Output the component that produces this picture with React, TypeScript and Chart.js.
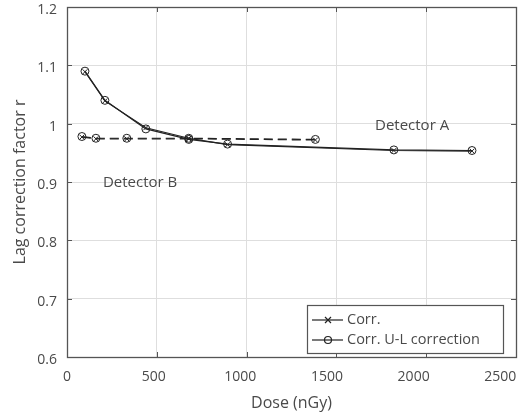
import React, { useEffect, useRef } from "react";
import { Chart, registerables } from "chart.js";
Chart.register(...registerables);

// Detector A (solid line)
const doseA = [100, 211, 439, 678, 894, 1820, 2255];
const corrA = [1.089, 1.039, 0.993, 0.975, 0.964, 0.954, 0.953];
const ulA = [1.09, 1.04, 0.991, 0.973, 0.965, 0.955, 0.954];
// Detector B (dashed line)
const doseB = [83, 161, 333, 678, 1383];
const corrB = [0.977, 0.974, 0.974, 0.974, 0.972];
const ulB = [0.978, 0.975, 0.975, 0.975, 0.973];

const legendLabels = ["Corr.", "Corr. U-L correction"];
const annotations = [
  { text: "Detector A", x: 1715, y: 0.996 },
  { text: "Detector B", x: 200, y: 0.898 },
];
const X_MIN = 0, X_MAX = 2500, X_STEP = 500;
const Y_MIN = 0.6, Y_MAX = 1.2, Y_STEP = 0.1;

const FONT = "'Open Sans', 'DejaVu Sans', sans-serif";
const INK = "#222";
const TXT = "#4a4a4a";
const X_LABEL_SQUEEZE = 0.965;

const toPts = (xs: number[], ys: number[]) => xs.map((x, i) => ({ x, y: ys[i] }));

const framePlugin = {
  id: "frame",
  afterDatasetsDraw(chart: any) {
    const { ctx, chartArea: ca, scales } = chart;
    ctx.save();
    ctx.strokeStyle = "#555";
    ctx.lineWidth = 1.3;
    ctx.strokeRect(Math.round(ca.left) + 0.5, Math.round(ca.top) + 0.5, Math.round(ca.right - ca.left), Math.round(ca.bottom - ca.top));
    const tl = 5;
    ctx.lineWidth = 1;
    ctx.beginPath();
    scales.x.ticks.forEach((t: any) => {
      const px = Math.round(scales.x.getPixelForValue(t.value)) + 0.5;
      ctx.moveTo(px, ca.bottom); ctx.lineTo(px, ca.bottom - tl);
      ctx.moveTo(px, ca.top); ctx.lineTo(px, ca.top + tl);
    });
    scales.y.ticks.forEach((t: any) => {
      const py = Math.round(scales.y.getPixelForValue(t.value)) + 0.5;
      ctx.moveTo(ca.left, py); ctx.lineTo(ca.left + tl, py);
      ctx.moveTo(ca.right, py); ctx.lineTo(ca.right - tl, py);
    });
    ctx.stroke();

    // x tick labels
    ctx.fillStyle = TXT;
    ctx.font = `14px ${FONT}`;
    ctx.textAlign = "center";
    ctx.textBaseline = "middle";
    scales.x.ticks.forEach((t: any) => {
      const px = scales.x.getPixelForValue(t.value);
      ctx.fillText(String(t.value), ca.left + (px - ca.left) * X_LABEL_SQUEEZE, ca.bottom + 20);
    });

    // annotations
    ctx.font = `15px ${FONT}`;
    ctx.textAlign = "left";
    annotations.forEach((a) => {
      ctx.fillText(a.text, scales.x.getPixelForValue(a.x), scales.y.getPixelForValue(a.y));
    });

    // legend
    const w = 196, h = 48;
    const lx = ca.right - 209, ty = ca.bottom - 52;
    ctx.fillStyle = "#fff";
    ctx.fillRect(lx, ty, w, h);
    ctx.strokeStyle = "#555";
    ctx.lineWidth = 1.2;
    ctx.strokeRect(Math.round(lx) + 0.5, Math.round(ty) + 0.5, w, h);
    ctx.font = `14.5px ${FONT}`;
    legendLabels.forEach((lab, i) => {
      const y = ty + 15 + i * 20;
      ctx.strokeStyle = INK;
      ctx.lineWidth = 1.2;
      ctx.beginPath();
      ctx.moveTo(lx + 5, y); ctx.lineTo(lx + 36, y);
      ctx.stroke();
      const cx = lx + 21;
      ctx.beginPath();
      if (i === 0) {
        const r = 3;
        ctx.moveTo(cx - r, y - r); ctx.lineTo(cx + r, y + r);
        ctx.moveTo(cx - r, y + r); ctx.lineTo(cx + r, y - r);
      } else {
        ctx.arc(cx, y, 3.5, 0, Math.PI * 2);
      }
      ctx.stroke();
      ctx.fillStyle = TXT;
      ctx.fillText(lab, lx + 40, y);
    });
    ctx.restore();
  },
};

export default function App() {
  const ref = useRef<HTMLCanvasElement>(null);
  useEffect(() => {
    if (!ref.current) return;
    const common = {
      showLine: true,
      borderColor: INK,
      borderWidth: 1.2,
      pointBorderColor: INK,
      pointBackgroundColor: "transparent",
      pointBorderWidth: 1,
    };
    const noPad = (s: any) => { s.paddingTop = 0; s.paddingBottom = 0; s.paddingLeft = 0; s.paddingRight = 0; };
    const chart = new Chart(ref.current, {
      type: "scatter",
      data: {
        datasets: [
          { ...common, label: legendLabels[0], data: toPts(doseA, corrA), pointStyle: "crossRot", pointRadius: 3.5 },
          { ...common, label: legendLabels[1], data: toPts(doseA, ulA), pointStyle: "circle", pointRadius: 4 },
          { ...common, label: "B " + legendLabels[0], data: toPts(doseB, corrB), pointStyle: "crossRot", pointRadius: 3.5, borderDash: [9, 5] },
          { ...common, label: "B " + legendLabels[1], data: toPts(doseB, ulB), pointStyle: "circle", pointRadius: 4, borderDash: [9, 5] },
        ],
      } as any,
      options: {
        animation: false,
        responsive: false,
        maintainAspectRatio: false,
        layout: { padding: { top: 7, right: 7, left: 0, bottom: 0 } },
        plugins: { legend: { display: false }, tooltip: { enabled: false } },
        scales: {
          x: {
            type: "linear",
            min: X_MIN,
            max: X_MAX,
            ticks: { stepSize: X_STEP, display: false },
            grid: { color: "#dedede", drawTicks: false },
            border: { display: false },
            title: { display: true, text: "Dose (nGy)", color: TXT, font: { family: FONT, size: 16 }, padding: { top: 0, bottom: 5 } },
            afterFit: (s: any) => { noPad(s); s.height = 61; },
          },
          y: {
            type: "linear",
            min: Y_MIN,
            max: Y_MAX,
            ticks: {
              stepSize: Y_STEP,
              color: TXT,
              font: { family: FONT, size: 14 },
              padding: 10,
              labelOffset: 3,
              callback: (v: any) => String(Number(Number(v).toFixed(1))),
            },
            grid: { color: "#dedede", drawTicks: false },
            border: { display: false },
            title: { display: true, text: "Lag correction factor r", color: TXT, font: { family: FONT, size: 16 }, padding: { top: 11, bottom: 0 } },
            afterFit: (s: any) => { noPad(s); s.width = 67; },
          },
        },
      } as any,
      plugins: [framePlugin],
    });
    return () => chart.destroy();
  }, []);
  return (
    <div style={{ position: "fixed", left: 0, top: 0, width: 523, height: 418, background: "#fff" }}>
      <canvas ref={ref} width={523} height={418} style={{ display: "block", width: 523, height: 418 }} />
    </div>
  );
}
